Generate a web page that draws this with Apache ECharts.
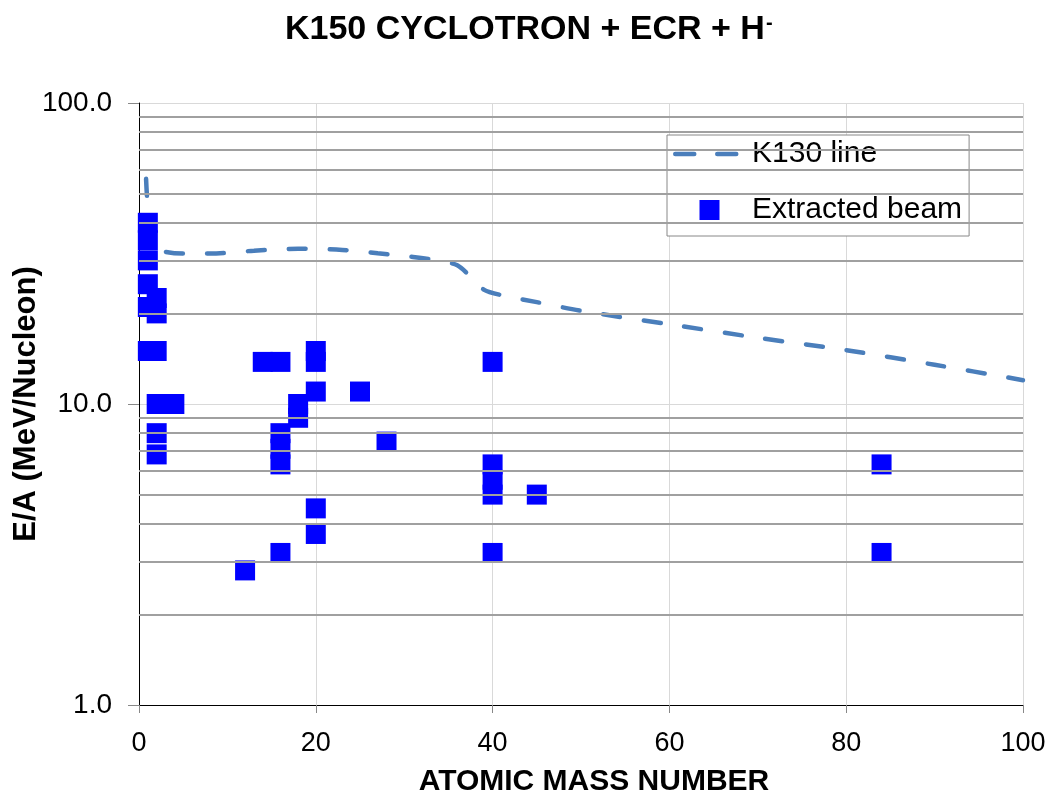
<!DOCTYPE html>
<html>
<head>
<meta charset="utf-8">
<script src="https://cdn.jsdelivr.net/npm/echarts@6/dist/echarts.min.js"></script>
<style>
html,body{margin:0;padding:0;background:#fff;}
#chart{width:1051px;height:794px;}
</style>
</head>
<body>
<div id="chart"></div>
<script>
// K130 line (mass number, E/A)
var lineA  = [0.8, 0.95, 1.5, 2.5, 5, 8, 13, 18, 23, 27, 31, 34, 36, 37.5, 39, 41, 45, 50, 60, 70, 80, 90, 100];
var lineEA = [56, 47, 34, 32.3, 31.6, 31.6, 32.3, 32.8, 32.5, 31.7, 30.8, 29.9, 28.9, 26.5, 24, 23, 21.8, 20.4, 18.4, 16.6, 15.1, 13.5, 12.0];
// Extracted beam points
var beamA  = [1, 1, 1, 1, 1, 1, 2, 2, 2, 2, 2, 2, 4, 12, 14, 16, 16, 16, 16, 16, 18, 18, 20, 20, 20, 20, 20, 25, 28, 40, 40, 40, 40, 40, 45, 84, 84];
var beamEA = [40, 35, 30, 25, 21, 15, 22.5, 20, 15, 10, 8, 6.8, 10, 2.8, 13.8, 13.8, 8, 7.1, 6.3, 3.2, 10, 9, 15, 13.8, 11, 4.5, 3.7, 11, 7.5, 13.8, 6.3, 5.6, 5.0, 3.2, 5.0, 6.3, 3.2];
// axis ticks
var xTicks = [0, 20, 40, 60, 80, 100];
var yDecades = [1, 10, 100];
var minorGridValues = [2, 3, 4, 5, 6, 7, 8, 9, 20, 30, 40, 50, 60, 70, 80, 90];

var FONT = 'Liberation Sans, Arial, sans-serif';
var chart = echarts.init(document.getElementById('chart'), null, {renderer: 'canvas', width: 1051, height: 794});

var lineData = lineA.map(function (a, i) { return [a, lineEA[i]]; });
var beamData = beamA.map(function (a, i) { return [a, beamEA[i]]; });

var dashIcon = 'path://M0,0M67,20M2.25,7.75h19a2.25,2.25 0 0 1 0,4.5h-19a2.25,2.25 0 0 1 0,-4.5zM44.25,7.75h19a2.25,2.25 0 0 1 0,4.5h-19a2.25,2.25 0 0 1 0,-4.5z';
var squareIcon = 'path://M0,0M67,20M26.5,0h20v20h-20z';

chart.setOption({
  animation: false,
  backgroundColor: '#ffffff',
  title: {
    text: 'K150 CYCLOTRON + ECR + H{sup|-}',
    left: 280,
    top: 8,
    textStyle: {
      fontFamily: FONT, fontWeight: 'bold', fontSize: 34, color: '#000',
      rich: { sup: { fontFamily: FONT, fontWeight: 'bold', fontSize: 20, color: '#000', verticalAlign: 'top', padding: [0, 0, 14, 1] } }
    }
  },
  legend: {
    data: [
      { name: 'K130 line', icon: dashIcon, itemStyle: { color: '#4a7ebb', borderWidth: 0 } },
      { name: 'Extracted beam', icon: squareIcon, itemStyle: { color: '#0000ff', borderWidth: 0 } }
    ],
    orient: 'vertical',
    left: 667,
    top: 135,
    padding: [4, 7, 11, 6],
    itemGap: 26,
    itemWidth: 67,
    itemHeight: 20,
    borderColor: '#888888',
    borderWidth: 1,
    backgroundColor: '#ffffff',
    textStyle: { fontFamily: FONT, fontSize: 30, color: '#000', lineHeight: 30, padding: [0, 0, 0, 7] }
  },
  grid: { left: 139, top: 103, width: 884, height: 602, containLabel: false, outerBoundsMode: 'none' },
  xAxis: {
    type: 'value',
    min: 0, max: 100, interval: 20,
    name: 'ATOMIC MASS NUMBER',
    nameLocation: 'middle',
    nameGap: 62,
    nameMoveOverlap: false,
    nameTextStyle: { fontFamily: FONT, fontWeight: 'bold', fontSize: 30, color: '#000', padding: [0, 0, 0, 26] },
    axisLine: { show: true, onZero: false, lineStyle: { color: '#000', width: 1 } },
    axisTick: { show: true, length: 8, lineStyle: { color: '#888' } },
    axisLabel: { fontFamily: FONT, fontSize: 27, color: '#000', margin: 25,
      formatter: function (v) { return xTicks.indexOf(v) >= 0 ? String(v) : ''; } },
    splitLine: { show: true, lineStyle: { color: '#d9d9d9', width: 1 } }
  },
  yAxis: {
    type: 'log',
    logBase: 10,
    min: 1, max: 100,
    name: 'E/A (MeV/Nucleon)',
    nameLocation: 'middle',
    nameGap: 97,
    nameMoveOverlap: false,
    nameTextStyle: { fontFamily: FONT, fontWeight: 'bold', fontSize: 31, color: '#000' },
    axisLine: { show: true, lineStyle: { color: '#000', width: 1 } },
    axisTick: { show: true, length: 11, lineStyle: { color: '#888' } },
    axisLabel: { fontFamily: FONT, fontSize: 28, color: '#000', margin: 27,
      formatter: function (v) { return yDecades.indexOf(Math.round(v)) >= 0 ? Number(v).toFixed(1) : ''; } },
    splitLine: { show: true, lineStyle: { color: '#d9d9d9', width: 1 } }
  },
  series: [
    {
      name: 'minorGrid',
      type: 'line',
      data: [],
      silent: true,
      z: 1,
      markLine: {
        silent: true,
        symbol: 'none',
        label: { show: false },
        animation: false,
        lineStyle: { color: '#a0a0a0', width: 2, type: 'solid' },
        data: minorGridValues.map(function (v) { return { yAxis: v }; })
      }
    },
    {
      name: 'K130 line',
      type: 'line',
      data: lineData,
      smooth: 0.3,
      showSymbol: false,
      symbol: 'none',
      z: 3,
      lineStyle: { color: '#4a7ebb', width: 4.5, type: [17, 24], cap: 'round' },
      itemStyle: { color: '#4a7ebb' }
    },
    {
      name: 'Extracted beam',
      type: 'scatter',
      data: beamData,
      symbol: 'rect',
      symbolSize: 20,
      z: 4,
      itemStyle: { color: '#0000ff', opacity: 1 }
    }
  ]
});
</script>
</body>
</html>
